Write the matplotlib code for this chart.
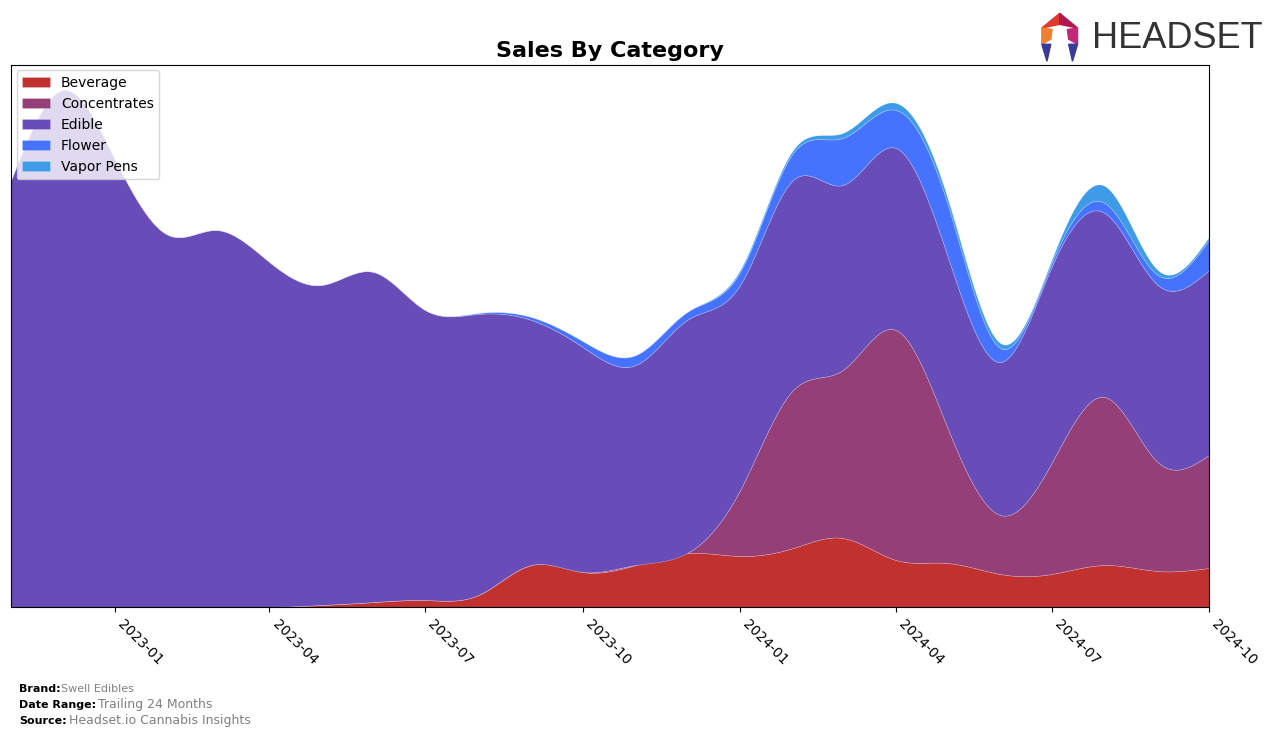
import numpy as np
import pandas as pd
import matplotlib
matplotlib.use("Agg")
import matplotlib.pyplot as plt
import matplotlib.dates as mdates
from matplotlib.patches import Polygon

# Monthly sales by category (relative units)
months = pd.date_range("2022-11-01", "2024-10-01", freq="MS")
categories = ["Beverage", "Concentrates", "Edible", "Flower", "Vapor Pens"]
beverage = [0, 0, 0, 0, 0, 0, 2, 5, 7, 12, 42, 35, 42, 54, 51, 59, 69, 47, 44, 33, 33, 42, 36, 39]
concentrates = [0, 0, 0, 0, 0, 0, 0, 0, 0, 0, 0, 0, 0, 0, 66, 158, 168, 230, 136, 59, 111, 168, 109, 113]
edible = [427, 517, 447, 372, 377, 345, 320, 330, 290, 281, 245, 225, 200, 233, 205, 210, 185, 182, 172, 153, 196, 184, 177, 185]
flower = [0, 0, 0, 0, 0, 0, 0, 0, 0, 1, 3, 6, 10, 8, 13, 27, 47, 38, 52, 14, 4, 10, 10, 30]
vapor_pens = [0, 0, 0, 0, 0, 0, 0, 0, 0, 0, 0, 0, 0, 0, 2, 3, 5, 7, 6, 5, 3, 17, 5, 3]
colors = ["#c0312f", "#953f78", "#684db8", "#4673fd", "#3e9be8"]


def smooth(x, y, xs):
    # natural cubic spline
    x = np.asarray(x, float); y = np.asarray(y, float)
    n = len(x); h = np.diff(x)
    A = np.zeros((n, n)); r = np.zeros(n)
    A[0, 0] = A[-1, -1] = 1
    for i in range(1, n - 1):
        A[i, i - 1] = h[i - 1]
        A[i, i] = 2 * (h[i - 1] + h[i])
        A[i, i + 1] = h[i]
        r[i] = 3 * ((y[i + 1] - y[i]) / h[i] - (y[i] - y[i - 1]) / h[i - 1])
    c = np.linalg.solve(A, r)
    b = (y[1:] - y[:-1]) / h - h * (2 * c[:-1] + c[1:]) / 3
    d = (c[1:] - c[:-1]) / (3 * h)
    idx = np.clip(np.searchsorted(x, xs) - 1, 0, n - 2)
    dx = xs - x[idx]
    return y[idx] + b[idx] * dx + c[idx] * dx ** 2 + d[idx] * dx ** 3


xnum = mdates.date2num(months)
xs = np.linspace(xnum[0], xnum[-1], 800)
series = [beverage, concentrates, edible, flower, vapor_pens]
smoothed = [smooth(xnum, s, xs) for s in series]

fig = plt.figure(figsize=(12.76, 7.38), dpi=100)
ax = fig.add_axes([0.0086, 0.1775, 0.9389, 0.7345])

base = np.zeros_like(xs)
for name, ys, col in zip(categories, smoothed, colors):
    ax.fill_between(xs, base, base + ys, facecolor=col, label=name,
                    edgecolor=(1, 1, 1, 0.25), linewidth=0.5)
    base = base + ys

ax.set_xlim(xnum[0], xnum[-1])
ax.set_ylim(0, 542)
ax.set_yticks([])
ax.xaxis.set_major_locator(mdates.MonthLocator(bymonth=[1, 4, 7, 10]))
ax.xaxis.set_major_formatter(mdates.DateFormatter("%Y-%m"))
plt.setp(ax.get_xticklabels(), rotation=-45, ha="left", fontsize=10)
ax.set_title("Sales By Category", fontsize=16, fontweight="bold", pad=6)
ax.legend(loc="upper left", fontsize=10, framealpha=0.8, handlelength=2, borderaxespad=0.4)

# footer
fig.text(0.015, 0.062, "Brand:", fontsize=8, fontweight="bold")
fig.text(0.048, 0.062, "Swell Edibles", fontsize=8, color="gray")
fig.text(0.015, 0.04, "Date Range:", fontsize=8, fontweight="bold")
fig.text(0.077, 0.04, "Trailing 24 Months", fontsize=9, color="gray")
fig.text(0.015, 0.019, "Source:", fontsize=8, fontweight="bold")
fig.text(0.054, 0.019, "Headset.io Cannabis Insights", fontsize=9, color="gray")

# logo
fig.text(0.856, 0.948, "HEADSET", fontsize=26, color="#333333", va="center", ha="left",
         family=["Liberation Sans", "DejaVu Sans"])
cx, cy = 0.8305, 0.952
logo = [
    ([(cx - 0.014, cy + 0.01), (cx, cy + 0.03), (cx, cy + 0.015)], "#e03a2f"),
    ([(cx, cy + 0.03), (cx + 0.014, cy + 0.01), (cx, cy + 0.015)], "#b0184e"),
    ([(cx - 0.014, cy + 0.01), (cx - 0.014, cy - 0.012), (cx - 0.007, cy - 0.005), (cx - 0.006, cy + 0.008)], "#f08030"),
    ([(cx + 0.014, cy + 0.01), (cx + 0.014, cy - 0.012), (cx + 0.007, cy - 0.005), (cx + 0.006, cy + 0.008)], "#c0287a"),
    ([(cx - 0.014, cy - 0.012), (cx - 0.007, cy - 0.012), (cx - 0.01, cy - 0.035)], "#3a3a9a"),
    ([(cx + 0.014, cy - 0.012), (cx + 0.007, cy - 0.012), (cx + 0.01, cy - 0.035)], "#3a3a9a"),
]
for pts, col in logo:
    fig.patches.append(Polygon(pts, closed=True, transform=fig.transFigure, color=col))

fig.savefig("out.png", dpi=100)
